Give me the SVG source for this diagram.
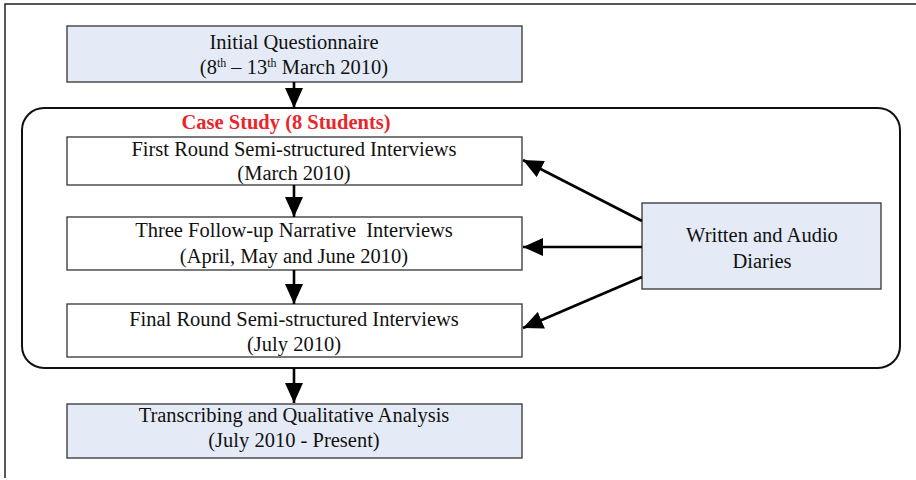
<svg xmlns="http://www.w3.org/2000/svg" width="916" height="480" viewBox="0 0 916 480">
<defs>
<marker id="ahb" markerWidth="20" markerHeight="18" refX="20" refY="9" orient="auto" markerUnits="userSpaceOnUse" viewBox="0 0 20 18">
<path d="M0,0 L20,9 L0,18 z" fill="#000"/>
</marker>
</defs>
<style>
text{font-family:"Liberation Serif","Times New Roman",serif;font-size:20.5px;fill:#111;text-anchor:middle}
.blue{fill:#e5ebf6;stroke:#333;stroke-width:1.3}
.white{fill:#fff;stroke:#333;stroke-width:1.3}
.conn line{stroke:#000;stroke-width:2.6;marker-end:url(#ahb)}
.title{font-weight:bold;fill:#e8262b;font-size:20.5px}
.sup{font-size:12px}
</style>
<rect width="916" height="480" fill="#fff"/>
<path d="M5,478 L5,4 L916,4" fill="none" stroke="#222" stroke-width="1.5"/>
<g id="case-study">
<rect x="22" y="108" width="878" height="260" rx="22" ry="22" fill="none" stroke="#111" stroke-width="2"/>
<text class="title" x="286" y="129">Case Study (8 Students)</text>
</g>
<g id="initial">
<rect class="blue" x="67" y="26" width="455" height="56"/>
<text x="294" y="49">Initial Questionnaire</text>
<text x="294" y="74">(8<tspan class="sup" dy="-7">th</tspan><tspan dy="7"> – 13</tspan><tspan class="sup" dy="-7">th</tspan><tspan dy="7"> March 2010)</tspan></text>
</g>
<g id="first-round">
<rect class="white" x="67" y="137" width="455" height="48"/>
<text x="294" y="156">First Round Semi-structured Interviews</text>
<text x="294" y="180">(March 2010)</text>
</g>
<g id="follow-up">
<rect class="white" x="67" y="217" width="455" height="53"/>
<text x="294" y="237">Three Follow-up Narrative&#160; Interviews</text>
<text x="294" y="263">(April, May and June 2010)</text>
</g>
<g id="final-round">
<rect class="white" x="67" y="304" width="455" height="53"/>
<text x="294" y="326">Final Round Semi-structured Interviews</text>
<text x="294" y="351">(July 2010)</text>
</g>
<g id="transcribing">
<rect class="blue" x="67" y="404" width="455" height="54"/>
<text x="294" y="422">Transcribing and Qualitative Analysis</text>
<text x="294" y="447">(July 2010 - Present)</text>
</g>
<g id="diaries">
<rect class="blue" x="642" y="203" width="239" height="86"/>
<text x="762" y="242">Written and Audio</text>
<text x="762" y="268">Diaries</text>
</g>
<g class="conn" id="connectors">
<line x1="294" y1="82" x2="294" y2="108"/>
<line x1="294" y1="185" x2="294" y2="217"/>
<line x1="294" y1="270" x2="294" y2="304"/>
<line x1="294" y1="368" x2="294" y2="403"/>
<line x1="642" y1="221" x2="523" y2="160"/>
<line x1="642" y1="247" x2="523" y2="247"/>
<line x1="642" y1="277" x2="523" y2="328"/>
</g>
</svg>
